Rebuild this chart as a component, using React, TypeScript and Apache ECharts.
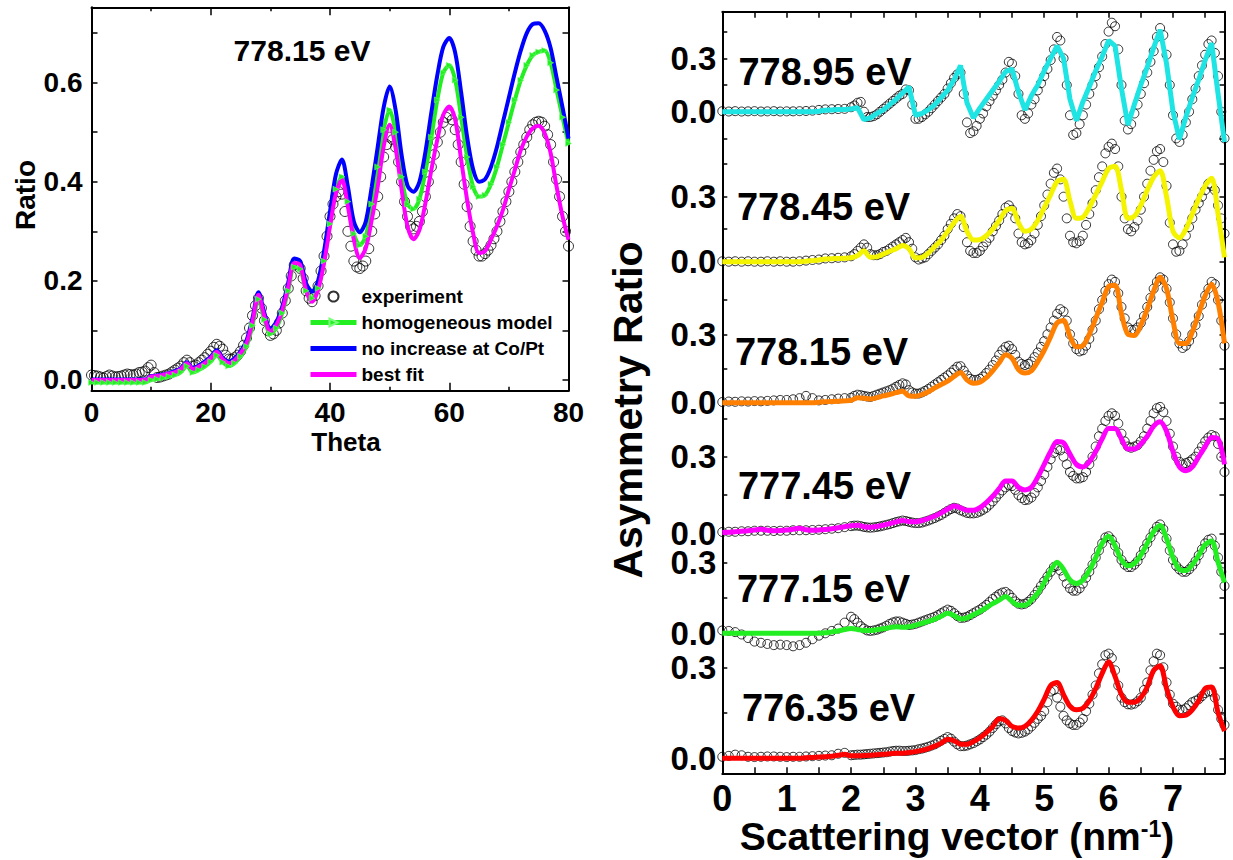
import React, { useEffect, useRef } from "react";
import * as echarts from "echarts";

// ---------------- Left panel: Ratio vs Theta at 778.15 eV ----------------
const thetaDeg = [
  0, 1, 2, 3, 4, 5, 6, 7, 8, 9,
  10, 11, 12, 13, 14, 15, 16, 17, 18, 19,
  20, 21, 22, 23, 24, 25, 26, 27, 28, 29,
  30, 31, 32, 33, 34, 35, 36, 37, 38, 39,
  40, 41, 42, 43, 44, 45, 46, 47, 48, 49,
  50, 51, 52, 53, 54, 55, 56, 57, 58, 59,
  60, 61, 62, 63, 64, 65, 66, 67, 68, 69,
  70, 71, 72, 73, 74, 75, 76, 77, 78, 79,
  80,
];
const expLeft = [
  0.01, 0.008, 0.004, 0.01, 0.006, 0.008, 0.012, 0.01, 0.015, 0.018,
  0.03, 0.005, 0.008, 0.012, 0.02, 0.028, 0.04, 0.028, 0.035, 0.045,
  0.058, 0.072, 0.062, 0.042, 0.045, 0.058, 0.085, 0.13, 0.165, 0.12,
  0.09, 0.1, 0.135, 0.185, 0.232, 0.225, 0.18, 0.158, 0.19, 0.25,
  0.33, 0.37, 0.375, 0.3, 0.24, 0.225, 0.24, 0.3, 0.37, 0.45,
  0.49, 0.47, 0.4, 0.33, 0.305, 0.32, 0.37, 0.43, 0.48, 0.52,
  0.535, 0.505, 0.44, 0.35, 0.28, 0.25, 0.255, 0.272, 0.3, 0.34,
  0.38, 0.42, 0.46, 0.49, 0.515, 0.522, 0.512, 0.475, 0.405, 0.33,
  0.27,
];
// experiment points read between the whole degrees (0.5, 1.5, ... 79.5)
const thetaHalf = [
  0.5, 1.5, 2.5, 3.5, 4.5, 5.5, 6.5, 7.5, 8.5, 9.5,
  10.5, 11.5, 12.5, 13.5, 14.5, 15.5, 16.5, 17.5, 18.5, 19.5,
  20.5, 21.5, 22.5, 23.5, 24.5, 25.5, 26.5, 27.5, 28.5, 29.5,
  30.5, 31.5, 32.5, 33.5, 34.5, 35.5, 36.5, 37.5, 38.5, 39.5,
  40.5, 41.5, 42.5, 43.5, 44.5, 45.5, 46.5, 47.5, 48.5, 49.5,
  50.5, 51.5, 52.5, 53.5, 54.5, 55.5, 56.5, 57.5, 58.5, 59.5,
  60.5, 61.5, 62.5, 63.5, 64.5, 65.5, 66.5, 67.5, 68.5, 69.5,
  70.5, 71.5, 72.5, 73.5, 74.5, 75.5, 76.5, 77.5, 78.5, 79.5,
];
const expLeftHalf = [
  0.009, 0.006, 0.007, 0.008, 0.007, 0.01, 0.011, 0.012, 0.016, 0.025,
  0.015, 0.006, 0.01, 0.016, 0.024, 0.035, 0.035, 0.03, 0.04, 0.052,
  0.066, 0.068, 0.05, 0.042, 0.05, 0.07, 0.105, 0.15, 0.145, 0.1,
  0.093, 0.115, 0.16, 0.21, 0.235, 0.205, 0.165, 0.17, 0.22, 0.29,
  0.355, 0.38, 0.34, 0.27, 0.228, 0.23, 0.265, 0.335, 0.41, 0.475,
  0.485, 0.44, 0.36, 0.31, 0.31, 0.34, 0.4, 0.455, 0.5, 0.53,
  0.525, 0.475, 0.395, 0.31, 0.262, 0.25, 0.262, 0.285, 0.32, 0.36,
  0.4, 0.44, 0.475, 0.505, 0.52, 0.52, 0.495, 0.44, 0.37, 0.3,
];
const homogeneousModel = [
  -0.005, -0.005, -0.005, -0.005, -0.005, -0.005, -0.005, -0.005, -0.005, -0.005,
  0.0, 0.002, 0.004, 0.007, 0.01, 0.016, 0.028, 0.015, 0.02, 0.027,
  0.037, 0.05, 0.036, 0.028, 0.034, 0.048, 0.068, 0.11, 0.163, 0.122,
  0.093, 0.105, 0.135, 0.18, 0.228, 0.224, 0.18, 0.165, 0.185, 0.24,
  0.315, 0.385, 0.41, 0.36, 0.295, 0.272, 0.29, 0.355, 0.43, 0.505,
  0.545, 0.5, 0.41, 0.355, 0.345, 0.365, 0.42, 0.49, 0.565, 0.62,
  0.635, 0.605, 0.53, 0.45, 0.39, 0.37, 0.373, 0.395, 0.43, 0.475,
  0.52, 0.565, 0.605, 0.635, 0.655, 0.662, 0.665, 0.64, 0.585, 0.53,
  0.477,
];
const noIncreaseCoPt = [
  0.001, 0.001, 0.001, 0.001, 0.001, 0.001, 0.001, 0.001, 0.001, 0.001,
  0.008, 0.009, 0.011, 0.014, 0.018, 0.024, 0.036, 0.024, 0.029, 0.037,
  0.047, 0.06, 0.045, 0.037, 0.044, 0.058, 0.08, 0.125, 0.177, 0.135,
  0.103, 0.117, 0.148, 0.197, 0.245, 0.24, 0.195, 0.178, 0.2, 0.26,
  0.34, 0.415, 0.445, 0.39, 0.32, 0.298, 0.32, 0.39, 0.47, 0.55,
  0.592, 0.545, 0.455, 0.392, 0.38, 0.4, 0.46, 0.54, 0.615, 0.672,
  0.69, 0.66, 0.58, 0.49, 0.425, 0.4, 0.405, 0.43, 0.47, 0.52,
  0.57, 0.62, 0.665, 0.7, 0.718, 0.72, 0.705, 0.67, 0.61, 0.55,
  0.487,
];
const bestFit = [
  0, 0, 0, 0, 0, 0, 0, 0, 0, 0,
  0.007, 0.008, 0.01, 0.013, 0.016, 0.022, 0.034, 0.022, 0.027, 0.034,
  0.044, 0.057, 0.042, 0.034, 0.04, 0.054, 0.074, 0.118, 0.172, 0.128,
  0.098, 0.111, 0.141, 0.188, 0.236, 0.232, 0.18, 0.158, 0.182, 0.236,
  0.31, 0.377, 0.404, 0.35, 0.283, 0.246, 0.266, 0.323, 0.39, 0.471,
  0.515, 0.468, 0.385, 0.31, 0.284, 0.303, 0.357, 0.424, 0.485, 0.535,
  0.552, 0.525, 0.444, 0.363, 0.296, 0.256, 0.26, 0.283, 0.31, 0.343,
  0.384, 0.424, 0.464, 0.491, 0.508, 0.513, 0.498, 0.458, 0.39, 0.33,
  0.283,
];
const leftXTicks = [0, 20, 40, 60, 80];
const leftYLabels = [0, 0.2, 0.4, 0.6];
const leftYTicks = [0, 0.1, 0.2, 0.3, 0.4, 0.5, 0.6, 0.7];
const legendNames = ["experiment", "homogeneous model", "no increase at Co/Pt", "best fit"];

// ---------------- Right panel: asymmetry ratio vs scattering vector ----------------
const qGrid = [
  0, 0.1, 0.2, 0.3, 0.4, 0.5, 0.6, 0.7, 0.8, 0.9,
  1.0, 1.1, 1.2, 1.3, 1.4, 1.5, 1.6, 1.7, 1.8, 1.9,
  2.0, 2.1, 2.2, 2.3, 2.4, 2.5, 2.6, 2.7, 2.8, 2.9,
  3.0, 3.1, 3.2, 3.3, 3.4, 3.5, 3.6, 3.7, 3.8, 3.9,
  4.0, 4.1, 4.2, 4.3, 4.4, 4.5, 4.6, 4.7, 4.8, 4.9,
  5.0, 5.1, 5.2, 5.3, 5.4, 5.5, 5.6, 5.7, 5.8, 5.9,
  6.0, 6.1, 6.2, 6.3, 6.4, 6.5, 6.6, 6.7, 6.8, 6.9,
  7.0, 7.1, 7.2, 7.3, 7.4, 7.5, 7.6, 7.7, 7.8,
];
// extra experiment readings between grid points, q = 2.05 ... 7.75
const qHalf = [
  2.05, 2.15, 2.25, 2.35, 2.45, 2.55, 2.65, 2.75, 2.85, 2.95,
  3.05, 3.15, 3.25, 3.35, 3.45, 3.55, 3.65, 3.75, 3.85, 3.95,
  4.05, 4.15, 4.25, 4.35, 4.45, 4.55, 4.65, 4.75, 4.85, 4.95,
  5.05, 5.15, 5.25, 5.35, 5.45, 5.55, 5.65, 5.75, 5.85, 5.95,
  6.05, 6.15, 6.25, 6.35, 6.45, 6.55, 6.65, 6.75, 6.85, 6.95,
  7.05, 7.15, 7.25, 7.35, 7.45, 7.55, 7.65, 7.75,
];
const energyLabels = ["778.95 eV", "778.45 eV", "778.15 eV", "777.45 eV", "777.15 eV", "776.35 eV"];

const fit77895 = [
  0, 0, 0, 0, 0, 0, 0, 0, 0, 0,
  0, 0, 0, 0, 0, 0.003, 0.008, 0.01, 0.012, 0.012,
  0.015, 0.022, -0.045, -0.035, -0.01, 0.01, 0.04, 0.07, 0.105, 0.14,
  -0.02, -0.01, 0.01, 0.04, 0.08, 0.12, 0.18, 0.26, 0.05, -0.035,
  0.02, 0.07, 0.12, 0.17, 0.225, 0.24, 0.11, 0.01, 0.09, 0.15,
  0.23, 0.3, 0.37, 0.3, 0.07, -0.05, 0.055, 0.14, 0.23, 0.31,
  0.4, 0.37, 0.13, -0.075, 0.04, 0.15, 0.25, 0.36, 0.46, 0.27,
  0.0, -0.155, -0.03, 0.08, 0.18, 0.29, 0.385, 0.1, -0.17,
];
const exp77895 = [
  0.003, 0.001, 0.003, 0.001, 0.002, 0.003, 0.001, 0.002, 0.003, 0.001,
  0.002, 0.002, 0.003, 0.004, 0.006, 0.01, 0.013, 0.014, 0.015, 0.016,
  0.025, 0.05, 0.0, -0.03, -0.015, 0.015, 0.045, 0.075, 0.1, 0.12,
  -0.04, -0.03, 0.0, 0.04, 0.08, 0.13, 0.19, 0.22, -0.06, -0.11,
  -0.04, 0.03, 0.09, 0.15, 0.22, 0.27, 0.1, -0.04, 0.04, 0.12,
  0.2, 0.29, 0.42, 0.3, -0.02, -0.12, -0.02, 0.1, 0.2, 0.31,
  0.45, 0.48, 0.15, -0.1, -0.01, 0.1, 0.22, 0.34, 0.47, 0.32,
  -0.02, -0.17, -0.06, 0.07, 0.2, 0.32, 0.4, 0.2, -0.15,
];
const exp77895Half = [
  0.035, 0.055, -0.03, -0.025, 0.0, 0.03, 0.06, 0.09, 0.125, 0.04,
  -0.04, -0.015, 0.02, 0.06, 0.1, 0.16, 0.21, 0.1, -0.12, -0.08,
  -0.01, 0.06, 0.12, 0.18, 0.28, 0.2, -0.02, -0.01, 0.07, 0.16,
  0.24, 0.35, 0.4, 0.15, -0.13, -0.07, 0.04, 0.15, 0.25, 0.38,
  0.5, 0.35, -0.05, -0.07, 0.04, 0.16, 0.28, 0.42, 0.43, 0.15,
  -0.15, -0.13, 0.0, 0.13, 0.26, 0.38, 0.33, 0.0,
];
const fit77845 = [
  0, 0, 0, 0, 0, 0, 0, 0, 0, 0,
  0, 0, 0, 0.002, 0.005, 0.008, 0.012, 0.014, 0.015, 0.016,
  0.018, 0.028, 0.05, 0.02, 0.022, 0.035, 0.048, 0.06, 0.075, 0.06,
  0.018, 0.02, 0.04, 0.07, 0.1, 0.14, 0.18, 0.21, 0.14, 0.1,
  0.102, 0.12, 0.15, 0.19, 0.235, 0.245, 0.18, 0.14, 0.15, 0.19,
  0.25, 0.31, 0.37, 0.38, 0.28, 0.2, 0.205, 0.25, 0.31, 0.37,
  0.43, 0.44, 0.33, 0.2, 0.21, 0.26, 0.33, 0.39, 0.42, 0.3,
  0.14, 0.11, 0.15, 0.22, 0.29, 0.35, 0.385, 0.22, 0.02,
];
const exp77845 = [
  0.002, 0, 0.002, 0, 0.002, 0, 0, 0.002, 0, 0.002,
  0, 0, 0.002, 0.005, 0.008, 0.01, 0.015, 0.016, 0.018, 0.02,
  0.025, 0.05, 0.08, 0.035, 0.03, 0.045, 0.06, 0.08, 0.1, 0.09,
  0.02, 0.015, 0.035, 0.065, 0.1, 0.15, 0.2, 0.21, 0.09, 0.04,
  0.05, 0.09, 0.14, 0.19, 0.25, 0.24, 0.13, 0.08, 0.1, 0.17,
  0.26, 0.36, 0.43, 0.3, 0.12, 0.085, 0.12, 0.22, 0.33, 0.44,
  0.53, 0.52, 0.3, 0.15, 0.16, 0.24, 0.36, 0.47, 0.52, 0.35,
  0.08, 0.05, 0.12, 0.2, 0.27, 0.33, 0.35, 0.26, 0.13,
];
const exp77845Half = [
  0.035, 0.065, 0.065, 0.03, 0.035, 0.05, 0.07, 0.09, 0.11, 0.06,
  0.01, 0.02, 0.05, 0.08, 0.12, 0.175, 0.22, 0.16, 0.05, 0.04,
  0.07, 0.11, 0.165, 0.22, 0.26, 0.2, 0.09, 0.085, 0.13, 0.21,
  0.31, 0.41, 0.38, 0.2, 0.09, 0.095, 0.17, 0.27, 0.39, 0.5,
  0.545, 0.44, 0.2, 0.14, 0.19, 0.3, 0.42, 0.51, 0.46, 0.18,
  0.046, 0.08, 0.16, 0.24, 0.3, 0.36, 0.33, 0.2,
];
const fit77815 = [
  0, 0, 0, 0, 0, 0, 0, 0, 0, 0,
  0, 0, 0, 0, 0, 0.002, 0.004, 0.005, 0.006, 0.008,
  0.01, 0.022, 0.02, 0.016, 0.022, 0.03, 0.036, 0.044, 0.05, 0.03,
  0.028, 0.035, 0.048, 0.065, 0.08, 0.095, 0.115, 0.133, 0.1, 0.085,
  0.09, 0.11, 0.14, 0.175, 0.21, 0.195, 0.145, 0.13, 0.14, 0.18,
  0.23, 0.29, 0.35, 0.36, 0.29, 0.245, 0.25, 0.3, 0.37, 0.44,
  0.51, 0.515, 0.39, 0.3, 0.295, 0.34, 0.41, 0.49, 0.55, 0.5,
  0.36, 0.26, 0.26, 0.31, 0.39, 0.47, 0.52, 0.44, 0.26,
];
const exp77815 = [
  0.003, 0.005, 0.004, 0.006, 0.005, 0.007, 0.006, 0.008, 0.01, 0.012,
  0.012, 0.015, 0.02, 0.03, 0.02, 0.01, 0.012, 0.015, 0.018, 0.02,
  0.022, 0.035, 0.03, 0.025, 0.035, 0.045, 0.055, 0.07, 0.085, 0.055,
  0.04, 0.045, 0.06, 0.08, 0.1, 0.12, 0.145, 0.16, 0.12, 0.1,
  0.105, 0.13, 0.165, 0.21, 0.245, 0.235, 0.18, 0.165, 0.18, 0.22,
  0.27, 0.33, 0.39, 0.4, 0.3, 0.235, 0.23, 0.28, 0.36, 0.45,
  0.52, 0.53, 0.42, 0.33, 0.32, 0.35, 0.42, 0.5, 0.55, 0.5,
  0.37, 0.26, 0.25, 0.3, 0.38, 0.47, 0.53, 0.45, 0.25,
];
const exp77815Half = [
  0.03, 0.033, 0.027, 0.03, 0.04, 0.05, 0.062, 0.078, 0.08, 0.045,
  0.04, 0.052, 0.07, 0.09, 0.11, 0.132, 0.158, 0.14, 0.105, 0.1,
  0.115, 0.145, 0.185, 0.23, 0.25, 0.21, 0.17, 0.17, 0.2, 0.245,
  0.3, 0.36, 0.41, 0.36, 0.26, 0.225, 0.25, 0.32, 0.41, 0.49,
  0.54, 0.48, 0.37, 0.32, 0.33, 0.38, 0.46, 0.53, 0.54, 0.44,
  0.3, 0.24, 0.27, 0.34, 0.43, 0.5, 0.52, 0.36,
];
const fit77745 = [
  0.003, 0.004, 0.006, 0.008, 0.01, 0.013, 0.016, 0.012, 0.01, 0.011,
  0.013, 0.016, 0.02, 0.014, 0.012, 0.013, 0.015, 0.018, 0.022, 0.026,
  0.03, 0.032, 0.026, 0.024, 0.027, 0.032, 0.038, 0.045, 0.05, 0.046,
  0.045, 0.05, 0.058, 0.068, 0.08, 0.095, 0.107, 0.1, 0.09, 0.09,
  0.1, 0.12, 0.145, 0.175, 0.205, 0.205, 0.18, 0.17, 0.18, 0.22,
  0.27, 0.32, 0.36, 0.355, 0.31, 0.27, 0.26, 0.28, 0.32, 0.37,
  0.41, 0.41, 0.37, 0.33, 0.33, 0.35, 0.38, 0.42, 0.437, 0.4,
  0.32, 0.26, 0.245, 0.26, 0.3, 0.34, 0.375, 0.37, 0.27,
];
const exp77745 = [
  0.005, 0.006, 0.006, 0.008, 0.008, 0.01, 0.01, 0.01, 0.009, 0.01,
  0.01, 0.012, 0.012, 0.012, 0.013, 0.014, 0.016, 0.018, 0.02, 0.024,
  0.028, 0.03, 0.025, 0.022, 0.025, 0.03, 0.036, 0.044, 0.05, 0.045,
  0.04, 0.042, 0.05, 0.06, 0.072, 0.088, 0.1, 0.09, 0.08, 0.078,
  0.085, 0.1, 0.125, 0.155, 0.18, 0.185, 0.15, 0.13, 0.14, 0.18,
  0.23, 0.29, 0.33, 0.3, 0.24, 0.215, 0.22, 0.27, 0.34, 0.41,
  0.46, 0.46, 0.39, 0.34, 0.34, 0.36, 0.41, 0.47, 0.495, 0.44,
  0.34, 0.28, 0.275, 0.29, 0.32, 0.36, 0.385, 0.35, 0.24,
];
const exp77745Half = [
  0.03, 0.028, 0.023, 0.023, 0.027, 0.033, 0.04, 0.047, 0.048, 0.042,
  0.04, 0.046, 0.055, 0.066, 0.08, 0.095, 0.097, 0.085, 0.078, 0.08,
  0.092, 0.112, 0.14, 0.168, 0.188, 0.17, 0.138, 0.132, 0.158, 0.205,
  0.26, 0.315, 0.325, 0.27, 0.225, 0.215, 0.24, 0.3, 0.38, 0.44,
  0.47, 0.43, 0.36, 0.335, 0.345, 0.38, 0.44, 0.49, 0.475, 0.39,
  0.3, 0.27, 0.28, 0.3, 0.34, 0.375, 0.38, 0.3,
];
const fit77715 = [
  0, 0, 0, 0, 0, 0, 0, 0, 0, 0,
  0, 0, 0, 0, 0, 0, 0.002, 0.006, 0.01, 0.016,
  0.02, 0.016, 0.012, 0.012, 0.015, 0.019, 0.024, 0.028, 0.026, 0.028,
  0.034, 0.042, 0.05, 0.06, 0.072, 0.085, 0.075, 0.06, 0.065, 0.078,
  0.092, 0.108, 0.125, 0.14, 0.155, 0.135, 0.118, 0.118, 0.14, 0.17,
  0.215, 0.265, 0.3, 0.27, 0.225, 0.21, 0.225, 0.265, 0.32, 0.38,
  0.41, 0.37, 0.31, 0.285, 0.295, 0.33, 0.38, 0.43, 0.455, 0.4,
  0.32, 0.27, 0.265, 0.29, 0.33, 0.375, 0.39, 0.3, 0.215,
];
const exp77715 = [
  0.012, 0.01, 0.005, -0.005, -0.02, -0.035, -0.04, -0.045, -0.05, -0.048,
  -0.05, -0.055, -0.05, -0.04, -0.025, -0.01, 0.0, 0.01, 0.02, 0.045,
  0.07, 0.045, 0.02, 0.01, 0.015, 0.025, 0.04, 0.05, 0.045, 0.035,
  0.04, 0.05, 0.06, 0.07, 0.085, 0.1, 0.085, 0.065, 0.07, 0.085,
  0.1, 0.12, 0.145, 0.165, 0.175, 0.15, 0.125, 0.125, 0.145, 0.18,
  0.22, 0.26, 0.285, 0.24, 0.19, 0.18, 0.21, 0.26, 0.32, 0.38,
  0.41, 0.37, 0.31, 0.28, 0.29, 0.33, 0.38, 0.43, 0.46, 0.4,
  0.31, 0.27, 0.26, 0.285, 0.33, 0.38, 0.4, 0.32, 0.2,
];
const exp77715Half = [
  0.06, 0.03, 0.012, 0.012, 0.02, 0.032, 0.046, 0.05, 0.04, 0.037,
  0.045, 0.055, 0.065, 0.077, 0.093, 0.095, 0.073, 0.066, 0.077, 0.093,
  0.11, 0.132, 0.155, 0.172, 0.165, 0.135, 0.122, 0.133, 0.162, 0.2,
  0.24, 0.28, 0.265, 0.21, 0.18, 0.19, 0.235, 0.29, 0.35, 0.405,
  0.395, 0.34, 0.29, 0.28, 0.305, 0.355, 0.405, 0.45, 0.44, 0.35,
  0.285, 0.26, 0.27, 0.305, 0.355, 0.395, 0.37, 0.26,
];
const fit77635 = [
  0, 0, 0, 0, 0, 0, 0, 0, 0, 0,
  0, 0, 0, 0.002, 0.003, 0.004, 0.005, 0.007, 0.01, 0.013,
  0.008, 0.008, 0.009, 0.01, 0.012, 0.013, 0.015, 0.017, 0.017, 0.019,
  0.022, 0.026, 0.032, 0.04, 0.05, 0.063, 0.058, 0.046, 0.046, 0.055,
  0.068, 0.085, 0.105, 0.13, 0.125, 0.105, 0.1, 0.105, 0.125, 0.155,
  0.195, 0.24, 0.25, 0.21, 0.172, 0.16, 0.165, 0.19, 0.23, 0.28,
  0.318, 0.27, 0.21, 0.185, 0.185, 0.2, 0.235, 0.29, 0.305, 0.23,
  0.17, 0.14, 0.142, 0.16, 0.19, 0.23, 0.235, 0.15, 0.09,
];
const exp77635 = [
  0.005, 0.008, 0.012, 0.01, 0.005, 0.004, 0.005, 0.006, 0.006, 0.005,
  0.004, 0.005, 0.005, 0.006, 0.007, 0.008, 0.009, 0.01, 0.015, 0.018,
  0.01, 0.012, 0.013, 0.015, 0.017, 0.019, 0.022, 0.025, 0.024, 0.025,
  0.027, 0.032, 0.038, 0.046, 0.058, 0.07, 0.055, 0.04, 0.042, 0.05,
  0.062, 0.078, 0.1, 0.122, 0.115, 0.09, 0.082, 0.088, 0.105, 0.13,
  0.155, 0.22, 0.2, 0.14, 0.115, 0.11, 0.13, 0.18, 0.24, 0.31,
  0.345, 0.29, 0.2, 0.178, 0.18, 0.2, 0.25, 0.32, 0.34, 0.25,
  0.18, 0.16, 0.165, 0.185, 0.195, 0.215, 0.22, 0.16, 0.11,
];
const exp77635Half = [
  0.011, 0.012, 0.014, 0.016, 0.018, 0.02, 0.024, 0.025, 0.024, 0.026,
  0.03, 0.035, 0.042, 0.052, 0.064, 0.065, 0.046, 0.04, 0.046, 0.056,
  0.07, 0.088, 0.112, 0.125, 0.1, 0.085, 0.084, 0.095, 0.117, 0.14,
  0.185, 0.225, 0.17, 0.125, 0.11, 0.118, 0.155, 0.21, 0.28, 0.34,
  0.33, 0.24, 0.185, 0.177, 0.188, 0.225, 0.29, 0.345, 0.3, 0.21,
  0.17, 0.16, 0.175, 0.19, 0.205, 0.22, 0.2, 0.13,
];
const rightXLabels = [0, 1, 2, 3, 4, 5, 6, 7];
const rightXTicks = [0, 0.5, 1, 1.5, 2, 2.5, 3, 3.5, 4, 4.5, 5, 5.5, 6, 6.5, 7, 7.5];
const rightYLabels = [0, 0.3];
const panelTickValues = [
  [-0.15, 0, 0.15, 0.3, 0.45],
  [0, 0.15, 0.3, 0.45],
  [0, 0.15, 0.3, 0.45],
  [0, 0.15, 0.3, 0.45],
  [0, 0.15, 0.3],
  [0, 0.15, 0.3],
];

// ---------------- layout / style (pixels) ----------------
const FONT = '"Liberation Sans", Arial, Helvetica, sans-serif';
const LBOX = { left: 91.5, top: 7.3, right: 568.5, bottom: 390.7 };
const RBOX = { left: 722.3, top: 11.7, right: 1224.5, bottom: 773.3 };
const LEFT_Y_MIN = -0.0216;
const LEFT_Y_MAX = 0.752;
const panelZeroPx = [111.7, 261.7, 402.7, 533.3, 633.3, 758.3];
const panelPx03 = [58.3, 196.7, 334.3, 456.7, 562.3, 667.3];
const panelLabelXY = [
  [825, 72],
  [823.5, 207],
  [821.5, 352],
  [824.5, 486],
  [823.5, 589],
  [828.5, 708],
];
const panelColors = ["#1ee4e4", "#f4f400", "#ff8000", "#ff00ff", "#22ee22", "#ff0000"];

const zip = (xs: number[], ys: number[]) => xs.map((x, i) => [x, ys[i]]);
const fmt1 = (v: number) => v.toFixed(1);

function buildOption() {
  const black = "#000";
  const axisLineOn = { show: true, onZero: false, lineStyle: { color: black, width: 2 } };
  const tickBase = { show: true, inside: true, length: 6, lineStyle: { color: black, width: 1.5 } };

  const grids: any[] = [
    { left: LBOX.left, top: LBOX.top, width: LBOX.right - LBOX.left, height: LBOX.bottom - LBOX.top },
  ];
  for (let i = 0; i < 6; i++) {
    grids.push({ left: RBOX.left, top: RBOX.top, width: RBOX.right - RBOX.left, height: RBOX.bottom - RBOX.top });
  }

  const xAxes: any[] = [
    {
      gridIndex: 0, type: "value", min: 0, max: 80, interval: 20, position: "bottom",
      axisLine: axisLineOn,
      axisTick: { ...tickBase, length: 8 },
      minorTick: { show: true, splitNumber: 2, length: 4, lineStyle: { color: black, width: 1.5 } },
      axisLabel: { show: true, customValues: leftXTicks, fontSize: 28, fontWeight: "bold", fontFamily: FONT, color: black, margin: 8 },
      splitLine: { show: false },
    },
    {
      gridIndex: 0, type: "value", min: 0, max: 80, interval: 20, position: "top",
      axisLine: axisLineOn,
      axisTick: { ...tickBase, length: 8 },
      minorTick: { show: true, splitNumber: 2, length: 4, lineStyle: { color: black, width: 1.5 } },
      axisLabel: { show: false },
      splitLine: { show: false },
    },
  ];
  for (let i = 0; i < 6; i++) {
    const last = i === 5;
    xAxes.push({
      gridIndex: i + 1, type: "value", min: 0, max: 7.8, position: "bottom", show: last,
      axisLine: axisLineOn,
      axisTick: { ...tickBase, customValues: rightXTicks },
      axisLabel: {
        show: last, customValues: rightXLabels, fontSize: 36, fontWeight: "bold", fontFamily: FONT, color: black, margin: 7,
      },
      splitLine: { show: false },
    });
  }
  xAxes.push({
    gridIndex: 6, type: "value", min: 0, max: 7.8, position: "top",
    axisLine: axisLineOn,
    axisTick: { ...tickBase, customValues: rightXTicks },
    axisLabel: { show: false },
    splitLine: { show: false },
  });

  const yAxes: any[] = [
    {
      gridIndex: 0, type: "value", min: LEFT_Y_MIN, max: LEFT_Y_MAX, position: "left",
      axisLine: axisLineOn,
      axisTick: { ...tickBase, customValues: leftYTicks },
      axisLabel: {
        customValues: leftYLabels, formatter: fmt1, fontSize: 28, fontWeight: "bold", fontFamily: FONT, color: black, margin: 9,
      },
      splitLine: { show: false },
    },
    {
      gridIndex: 0, type: "value", min: LEFT_Y_MIN, max: LEFT_Y_MAX, position: "right",
      axisLine: axisLineOn,
      axisTick: { ...tickBase, customValues: leftYTicks },
      axisLabel: { show: false },
      splitLine: { show: false },
    },
  ];
  for (let i = 0; i < 6; i++) {
    const k = (panelZeroPx[i] - panelPx03[i]) / 0.3; // px per unit
    const ymax = (panelZeroPx[i] - RBOX.top) / k;
    const ymin = -(RBOX.bottom - panelZeroPx[i]) / k;
    yAxes.push({
      gridIndex: i + 1, type: "value", min: ymin, max: ymax, position: "left",
      axisLine: { ...axisLineOn, show: i === 5 },
      axisTick: { ...tickBase, length: 5, customValues: panelTickValues[i] },
      axisLabel: {
        customValues: rightYLabels, formatter: fmt1, fontSize: 33, fontWeight: "bold", fontFamily: FONT, color: black, margin: 6,
      },
      splitLine: { show: false },
    });
    yAxes.push({
      gridIndex: i + 1, type: "value", min: ymin, max: ymax, position: "right",
      axisLine: { ...axisLineOn, show: i === 5 },
      axisTick: { ...tickBase, length: 5, customValues: panelTickValues[i] },
      axisLabel: { show: false },
      splitLine: { show: false },
    });
  }

  const openCircle = { color: "rgba(255,255,255,0)", borderColor: black, borderWidth: 1 };
  const series: any[] = [
    {
      name: legendNames[0], type: "scatter", xAxisIndex: 0, yAxisIndex: 0,
      data: zip(thetaDeg, expLeft).concat(zip(thetaHalf, expLeftHalf)),
      symbol: "circle", symbolSize: 10, itemStyle: openCircle, silent: true,
    },
    {
      name: legendNames[1], type: "line", xAxisIndex: 0, yAxisIndex: 0,
      data: zip(thetaDeg, homogeneousModel), smooth: 0.3,
      symbol: "triangle", symbolRotate: -90, symbolSize: 6, showSymbol: true,
      itemStyle: { color: "#22ee22", borderColor: "#7cff7c", borderWidth: 0.5 },
      lineStyle: { color: "#22ee22", width: 4 }, silent: true,
    },
    {
      name: legendNames[2], type: "line", xAxisIndex: 0, yAxisIndex: 0,
      data: zip(thetaDeg, noIncreaseCoPt), smooth: 0.3, symbol: "none",
      itemStyle: { color: "#0000ff" }, lineStyle: { color: "#0000ff", width: 4 }, silent: true,
    },
    {
      name: legendNames[3], type: "line", xAxisIndex: 0, yAxisIndex: 0,
      data: zip(thetaDeg, bestFit), smooth: 0.3, symbol: "none",
      itemStyle: { color: "#ff00ff" }, lineStyle: { color: "#ff00ff", width: 4 }, silent: true,
    },
  ];

  const fits = [fit77895, fit77845, fit77815, fit77745, fit77715, fit77635];
  const exps = [exp77895, exp77845, exp77815, exp77745, exp77715, exp77635];
  const expsHalf = [exp77895Half, exp77845Half, exp77815Half, exp77745Half, exp77715Half, exp77635Half];
  for (let i = 0; i < 6; i++) {
    series.push({
      name: "exp " + energyLabels[i], type: "scatter", xAxisIndex: 2 + i, yAxisIndex: 2 + 2 * i,
      data: zip(qGrid, exps[i]).concat(zip(qHalf, expsHalf[i])),
      symbol: "circle", symbolSize: 9, itemStyle: openCircle, silent: true,
    });
    series.push({
      name: "fit " + energyLabels[i], type: "line", xAxisIndex: 2 + i, yAxisIndex: 2 + 2 * i,
      data: zip(qGrid, fits[i]), smooth: i === 0 ? false : 0.3, symbol: "none",
      lineStyle: { color: panelColors[i], width: 5 }, itemStyle: { color: panelColors[i] }, silent: true,
    });
  }

  const txt = (text: string, x: number, y: number, size: number, rotation = 0) => ({
    type: "text", x, y, rotation, silent: true,
    style: { text, fontSize: size, fontWeight: "bold", fontFamily: FONT, fill: black, align: "center", verticalAlign: "middle" },
  });

  const graphic: any[] = [
    txt("778.15 eV", 302, 50, 30),
    txt("Ratio", 25, 195, 28, Math.PI / 2),
    txt("Theta", 346, 442, 26),
    txt("Asymmetry Ratio", 628, 410, 41, Math.PI / 2),
    {
      type: "text", x: 957, y: 817, silent: true,
      style: {
        text: "{a|Scattering vector (nm}{b|-1}{a|)}",
        align: "center", verticalAlign: "top", fill: black,
        rich: {
          a: { fontSize: 39, fontWeight: "bold", fontFamily: FONT, fill: black, lineHeight: 39 },
          b: { fontSize: 23, fontWeight: "bold", fontFamily: FONT, fill: black, verticalAlign: "top", lineHeight: 24 },
        },
      },
    },
  ];
  for (let i = 0; i < 6; i++) {
    graphic.push(txt(energyLabels[i], panelLabelXY[i][0], panelLabelXY[i][1], 38));
  }

  return {
    animation: false,
    backgroundColor: "#fff",
    grid: grids,
    xAxis: xAxes,
    yAxis: yAxes,
    legend: {
      data: [
        { name: legendNames[0] },
        { name: legendNames[1], lineStyle: { width: 5 } },
        { name: legendNames[2], itemStyle: { opacity: 0 }, lineStyle: { width: 5 } },
        { name: legendNames[3], itemStyle: { opacity: 0 }, lineStyle: { width: 5 } },
      ],
      orient: "vertical", left: 308, top: 287, padding: 0,
      itemWidth: 46, itemHeight: 10, itemGap: 7, selectedMode: false,
      textStyle: { fontSize: 19, fontWeight: "bold", fontFamily: FONT, color: black, lineHeight: 19 },
    },
    series,
    graphic,
  };
}

export default function App() {
  const ref = useRef<HTMLDivElement>(null);
  useEffect(() => {
    if (!ref.current) return;
    const chart = echarts.init(ref.current, null, { renderer: "svg" });
    chart.setOption(buildOption() as any);
    return () => chart.dispose();
  }, []);
  return (
    <div
      ref={ref}
      style={{ position: "absolute", left: 0, top: 0, width: 1233, height: 860, background: "#fff" }}
    />
  );
}
